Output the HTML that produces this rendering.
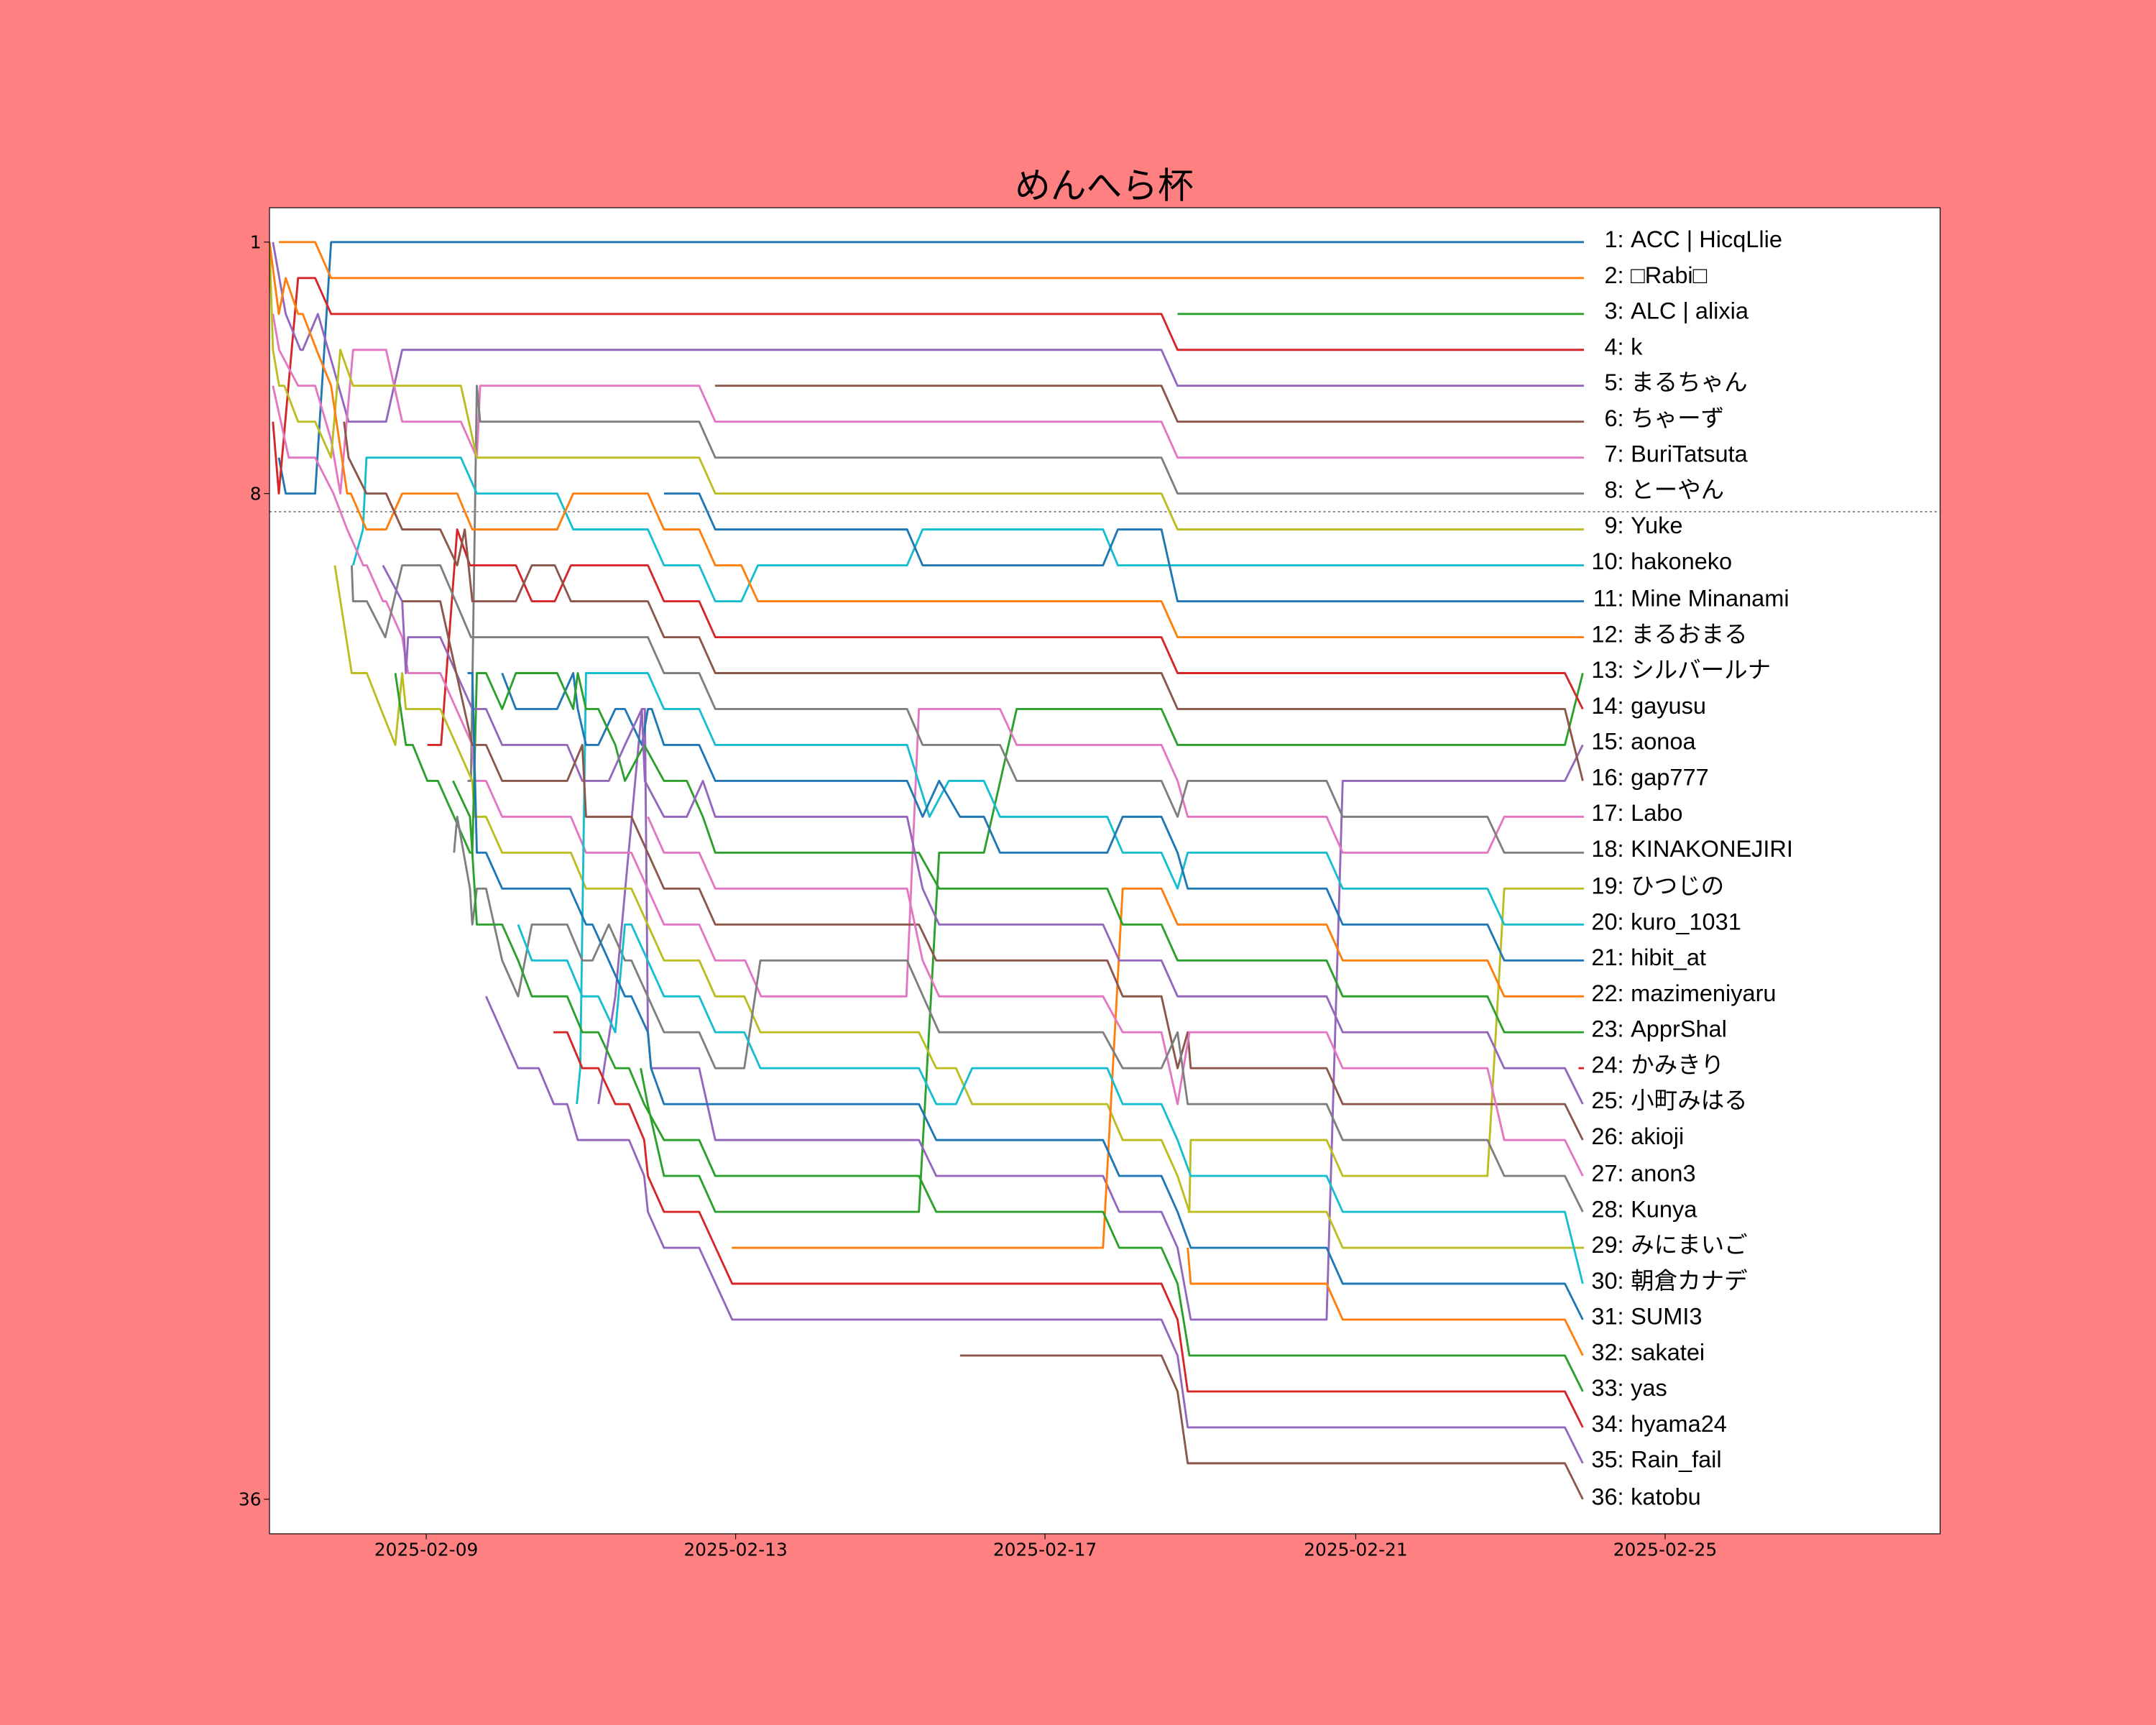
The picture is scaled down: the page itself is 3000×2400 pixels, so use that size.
<!DOCTYPE html>
<html><head><meta charset="utf-8"><style>
html,body{margin:0;padding:0;background:#ff8080;}
svg{display:block;}
text{font-family:"Liberation Sans","Noto Sans CJK JP",sans-serif;fill:#000;}
.tk{font-family:"DejaVu Sans","Liberation Sans",sans-serif;}
polyline{fill:none;stroke-width:2.9;vector-effect:non-scaling-stroke;stroke-linejoin:round;}
</style></head><body>
<svg width="3000" height="2400" viewBox="0 0 1568 1254" preserveAspectRatio="none" xmlns="http://www.w3.org/2000/svg">
<rect x="0" y="0" width="1568" height="1254" fill="#ff8080"/>
<rect x="196" y="151" width="1215" height="964" fill="#fff"/>
<text x="803" y="144" font-size="26" text-anchor="middle">めんへら杯</text>
<line x1="196" y1="372" x2="1411" y2="372" stroke="#808080" stroke-width="1" stroke-dasharray="1.5,2"/>
<g transform="translate(0,149.89) scale(1,26.11)">
<polyline stroke="#1f77b4" points="202.8,7 207.8,8 229.2,8 240.8,1 1152,1"/>
<polyline stroke="#ff7f0e" points="202.8,1 229.2,1 240.8,2 1152,2"/>
<polyline stroke="#2ca02c" points="856.4,3 1152,3"/>
<polyline stroke="#d62728" points="198.5,6 202.8,8 216.8,2 229.2,2 240.8,3 844.7,3 856.4,4 1152,4"/>
<polyline stroke="#9467bd" points="198.5,1 207.8,3 218.5,4 220.2,4 231.2,3 242.5,4.5 253.5,6 280.8,6 292.5,4 844.7,4 856.4,5 1152,5"/>
<polyline stroke="#8c564b" points="520,5 844.7,5 856.4,6 1152,6"/>
<polyline stroke="#e377c2" points="198.5,3 203,4 216.8,5 229.2,5 240.8,6.5 247.5,8 256.8,4 280.8,4 292.5,6 335.2,6 346.8,7 349.2,5 508.5,5 520.2,6 844.7,6 856.4,7 1152,7"/>
<polyline stroke="#7f7f7f" points="340,16 342.5,16 346.8,5 349.2,6 508.5,6 520.2,7 844.7,7 856.4,8 1152,8"/>
<polyline stroke="#bcbd22" points="196,1 198.5,4 203,5 206.8,5 216.8,6 229.2,6 240.8,7 247.5,4 256.8,5 335.2,5 346.8,7 508.5,7 520.2,8 844.7,8 856.4,9 1152,9"/>
<polyline stroke="#17becf" points="256.8,10 264,9 266.5,7 335.2,7 346.8,8 405.2,8 416.9,9 471.2,9 482.9,10 508.5,10 520.2,11 539.2,11 551.2,10 659.7,10 671,9 802.2,9 813,10 1152,10"/>
<polyline stroke="#1f77b4" points="482.9,8 508.5,8 520.2,9 659.7,9 671,10 802.2,10 813,9 844.7,9 856.4,11 1152,11"/>
<polyline stroke="#ff7f0e" points="196,1 202.8,3 207.8,2 216.8,3 220.2,3 230.2,4 240.8,5 252.5,8 255.2,8 266.5,9 280.8,9 292.5,8 332.5,8 343.5,9 405.2,9 416.9,8 471.2,8 482.9,9 508.5,9 520.2,10 539.2,10 551.2,11 844.7,11 856.4,12 1152,12"/>
<polyline stroke="#2ca02c" points="466,24 471,25 482.9,27 508.5,27 520.2,28 668.3,28 683,18 715.6,18 739.4,14 844.7,14 856.4,15 1138.1,15 1151.1,13"/>
<polyline stroke="#d62728" points="310.8,15 320.8,15 332.5,9 341.8,10 375.2,10 386.8,11 403.5,11 415.2,10 471.2,10 482.9,11 508.5,11 520.2,12 844.7,12 856.4,13 1138.1,13 1151.1,14"/>
<polyline stroke="#9467bd" points="435.2,25 447.5,22 466.8,14 469,14 471.2,23 473.5,24 508.5,24 520.2,26 668.3,26 680.9,27 802.2,27 814,28 844.7,28 856.4,29 866,31 964.8,31 976.5,16 1138.1,16 1151.1,15"/>
<polyline stroke="#8c564b" points="250.2,6 253.5,7 266.5,8 280.8,8 292.5,9 320.2,9 332.5,10 338,9 343.5,11 375.2,11 386.8,10 403.5,10 415.2,11 471.2,11 482.9,12 508.5,12 520.2,13 844.7,13 856.4,14 1138.1,14 1151.1,16"/>
<polyline stroke="#e377c2" points="198.5,5 210,7 229.2,7 242.5,8 252.5,9 264.2,10 266.8,10 278.5,11 280.8,11 292.5,12 296.8,13 320.2,13 343.5,15 345.2,16 353.5,16 365.2,17 415.2,17 426.2,18 459.2,18 482.9,20 508.5,20 520.2,21 541.9,21 553.5,22 659.2,22 668.3,14 727.3,14 739.4,15 844.7,15 856.4,16 863.8,17 964.8,17 976.5,18 1081.8,18 1094,17 1152,17"/>
<polyline stroke="#7f7f7f" points="255.8,10 256.8,11 266.8,11 280.2,12 292.5,10 320.2,10 342.5,12 471.2,12 482.9,13 508.5,13 520.2,14 659.7,14 671,15 727.3,15 739.4,16 844.7,16 856.4,17 863.8,16 964.8,16 976.5,17 1081.8,17 1094,18 1152,18"/>
<polyline stroke="#bcbd22" points="243.5,10 255.8,13 266.8,13 277,14 287.5,15 292.5,13 295.2,14 320.2,14 343.5,16 345.2,17 353.5,17 365.2,18 415.2,18 426.2,19 459.2,19 482.9,21 508.5,21 520.2,22 541.3,22 553,23 668.3,23 680.9,24 695.3,24 707,25 805.3,25 816.5,26 844.7,26 856.4,27 865,28 866,26 964.8,26 976.5,27 1081.8,27 1094,19 1152,19"/>
<polyline stroke="#17becf" points="419.5,25 422,24 426.2,13 471.2,13 482.9,14 508.5,14 520.2,15 659.7,15 676,17 690,16 715.6,16 727.3,17 805.3,17 816.5,18 844.7,18 856.4,19 863.8,18 964.8,18 976.5,19 1081.8,19 1094,20 1152,20"/>
<polyline stroke="#1f77b4" points="365.2,13 375.2,14 405.2,14 416.9,13 420.2,14 426.2,15 435.2,15 447.5,14 454.5,14 466.8,15 471.2,14 474,14 482.9,15 508.5,15 520.2,16 659.7,16 671,17 683,16 698.2,17 715.6,17 727.3,18 805.3,18 816.5,17 844.7,17 856.4,18 863.8,19 964.8,19 976.5,20 1081.8,20 1094,21 1152,21"/>
<polyline stroke="#ff7f0e" points="532.2,29 802.2,29 816.5,19 844.7,19 856.4,20 964.8,20 976.5,21 1081.8,21 1094,22 1152,22"/>
<polyline stroke="#2ca02c" points="287.5,13 295.2,15 300.2,15 310.8,16 318.5,16 330.2,17 341.8,18 343.5,18 346.8,13 353.5,13 365.2,14 375.2,13 405.2,13 416.9,14 420.2,13 426.2,14 435.2,14 447.5,15 454.5,16 468.5,15 482.9,16 499.5,16 511.2,17 520.2,18 668.3,18 683,19 805.3,19 816.5,20 844.7,20 856.4,21 964.8,21 976.5,22 1081.8,22 1094,23 1152,23"/>
<polyline stroke="#d62728" points="1148,24 1152,24"/>
<polyline stroke="#9467bd" points="278.5,10 292.5,11 295.2,13 296.8,12 320.2,12 343.5,14 353.5,14 365.2,15 412.5,15 423.5,16 442.8,16 454.5,15 466.8,14 469,16 482.9,17 499.5,17 511.2,16 520.2,17 659.7,17 671,19 683,20 802.2,20 814,21 844.7,21 856.4,22 964.8,22 976.5,23 1081.8,23 1094,24 1138.1,24 1151.1,25"/>
<polyline stroke="#8c564b" points="292.5,11 320.2,11 343.5,15 353.5,15 365.2,16 412.5,16 423.5,15 426.2,17 459.2,17 482.9,19 508.5,19 520.2,20 668.3,20 680.9,21 805.3,21 816.5,22 844.7,22 856.4,24 863.8,23 866,24 964.8,24 976.5,25 1138.1,25 1151.1,26"/>
<polyline stroke="#e377c2" points="471.2,17 482.9,18 508.5,18 520.2,19 659.7,19 671,21 683,22 802.2,22 816.5,23 844.7,23 856.4,25 865,23 964.8,23 976.5,24 1081.8,24 1094,26 1138.1,26 1151.1,27"/>
<polyline stroke="#7f7f7f" points="330.2,18 332.5,17 341.8,19 343.5,20 346.8,19 353.5,19 365.2,21 376.8,22 386.8,20 412.5,20 423.5,21 430.9,21 442.8,20 454.5,21 459.2,21 482.9,23 508.5,23 520.2,24 541.3,24 553,21 659.7,21 683,23 802.2,23 816.5,24 844.7,24 856.4,23 863.8,25 964.8,25 976.5,26 1081.8,26 1094,27 1138.1,27 1151.1,28"/>
<polyline stroke="#bcbd22" points="863.8,28 964.8,28 976.5,29 1152,29"/>
<polyline stroke="#17becf" points="376.8,20 386.8,21 412.5,21 423.5,22 435.2,22 447.5,23 454.5,20 459.2,20 482.9,22 508.5,22 520.2,23 541.3,23 553,24 668.3,24 680.9,25 695.3,25 707,24 805.3,24 816.5,25 844.7,25 856.4,26 866,27 964.8,27 976.5,28 1138.1,28 1151.1,30"/>
<polyline stroke="#1f77b4" points="340,13 343.5,13 346.8,18 353.5,18 365.2,19 414.5,19 426.2,20 430.9,20 454.5,22 459.2,22 471.2,23 473.5,24 482.9,25 668.3,25 680.9,26 802.2,26 814,27 844.7,27 856.4,28 866,29 964.8,29 976.5,30 1138.1,30 1151.1,31"/>
<polyline stroke="#ff7f0e" points="863.8,29 866,30 964.8,30 976.5,31 1138.1,31 1151.1,32"/>
<polyline stroke="#2ca02c" points="329.5,16 341.8,17 343.5,18 346.8,20 365.2,20 376.8,21 386.8,22 412.5,22 423.5,23 435.2,23 447.5,24 457.5,24 468.5,25 482.9,26 508.5,26 520.2,27 668.3,27 680.9,28 802.2,28 814,29 844.7,29 856.4,30 865,32 1138.1,32 1151.1,33"/>
<polyline stroke="#d62728" points="402.5,23 412.5,23 423.5,24 435.2,24 447.5,25 457.5,25 468.5,26 471.2,27 482.9,28 508.5,28 532.5,30 844.7,30 856.4,31 863.8,33 1138.1,33 1151.1,34"/>
<polyline stroke="#9467bd" points="353.5,22 376.8,24 391.8,24 402.8,25 412.5,25 420.2,26 457.5,26 468.5,27 471.2,28 482.9,29 508.5,29 532.5,31 844.7,31 856.4,32 863.8,34 1138.1,34 1151.1,35"/>
<polyline stroke="#8c564b" points="698.2,32 844.7,32 856.4,33 863.8,35 1138.1,35 1151.1,36"/>
</g>
<rect x="196" y="151" width="1215" height="964" fill="none" stroke="#000" stroke-width="0.6"/>
<g stroke="#000" stroke-width="0.6">
<line x1="192" y1="176" x2="196" y2="176"/><line x1="192" y1="358.8" x2="196" y2="358.8"/><line x1="192" y1="1089.9" x2="196" y2="1089.9"/>
<line x1="310" y1="1115" x2="310" y2="1119"/><line x1="535" y1="1115" x2="535" y2="1119"/><line x1="760" y1="1115" x2="760" y2="1119"/><line x1="986" y1="1115" x2="986" y2="1119"/><line x1="1211" y1="1115" x2="1211" y2="1119"/>
</g>
<g class="tk" font-size="13" text-anchor="end" dominant-baseline="central">
<text class="tk" x="190" y="176">1</text><text class="tk" x="190" y="359">8</text><text class="tk" x="190" y="1090">36</text>
</g>
<g font-size="13" text-anchor="middle">
<text class="tk" x="310" y="1131">2025-02-09</text><text class="tk" x="535" y="1131">2025-02-13</text><text class="tk" x="760" y="1131">2025-02-17</text><text class="tk" x="986" y="1131">2025-02-21</text><text class="tk" x="1211" y="1131">2025-02-25</text>
</g>
<g font-size="17" dominant-baseline="central">
<g text-anchor="end">
<text x="1181" y="174">1:</text><text x="1181" y="200">2:</text><text x="1181" y="226">3:</text><text x="1181" y="252">4:</text><text x="1181" y="278">5:</text><text x="1181" y="304">6:</text><text x="1181" y="330">7:</text><text x="1181" y="356">8:</text><text x="1181" y="382">9:</text><text x="1181" y="408">10:</text><text x="1181" y="435">11:</text><text x="1181" y="461">12:</text><text x="1181" y="487">13:</text><text x="1181" y="513">14:</text><text x="1181" y="539">15:</text><text x="1181" y="565">16:</text><text x="1181" y="591">17:</text><text x="1181" y="617">18:</text><text x="1181" y="644">19:</text><text x="1181" y="670">20:</text><text x="1181" y="696">21:</text><text x="1181" y="722">22:</text><text x="1181" y="748">23:</text><text x="1181" y="774">24:</text><text x="1181" y="800">25:</text><text x="1181" y="826">26:</text><text x="1181" y="853">27:</text><text x="1181" y="879">28:</text><text x="1181" y="905">29:</text><text x="1181" y="931">30:</text><text x="1181" y="957">31:</text><text x="1181" y="983">32:</text><text x="1181" y="1009">33:</text><text x="1181" y="1035">34:</text><text x="1181" y="1061">35:</text><text x="1181" y="1088">36:</text>
</g>
<text x="1186" y="174">ACC | HicqLlie</text><text x="1186" y="200">□Rabi□</text><text x="1186" y="226">ALC | alixia</text><text x="1186" y="252">k</text><text x="1186" y="278">まるちゃん</text><text x="1186" y="304">ちゃーず</text><text x="1186" y="330">BuriTatsuta</text><text x="1186" y="356">とーやん</text><text x="1186" y="382">Yuke</text><text x="1186" y="408">hakoneko</text><text x="1186" y="435">Mine Minanami</text><text x="1186" y="461">まるおまる</text><text x="1186" y="487">シルバールナ</text><text x="1186" y="513">gayusu</text><text x="1186" y="539">aonoa</text><text x="1186" y="565">gap777</text><text x="1186" y="591">Labo</text><text x="1186" y="617">KINAKONEJIRI</text><text x="1186" y="644">ひつじの</text><text x="1186" y="670">kuro_1031</text><text x="1186" y="696">hibit_at</text><text x="1186" y="722">mazimeniyaru</text><text x="1186" y="748">ApprShal</text><text x="1186" y="774">かみきり</text><text x="1186" y="800">小町みはる</text><text x="1186" y="826">akioji</text><text x="1186" y="853">anon3</text><text x="1186" y="879">Kunya</text><text x="1186" y="905">みにまいご</text><text x="1186" y="931">朝倉カナデ</text><text x="1186" y="957">SUMI3</text><text x="1186" y="983">sakatei</text><text x="1186" y="1009">yas</text><text x="1186" y="1035">hyama24</text><text x="1186" y="1061">Rain_fail</text><text x="1186" y="1088">katobu</text>
</g>
</svg>
</body></html>
